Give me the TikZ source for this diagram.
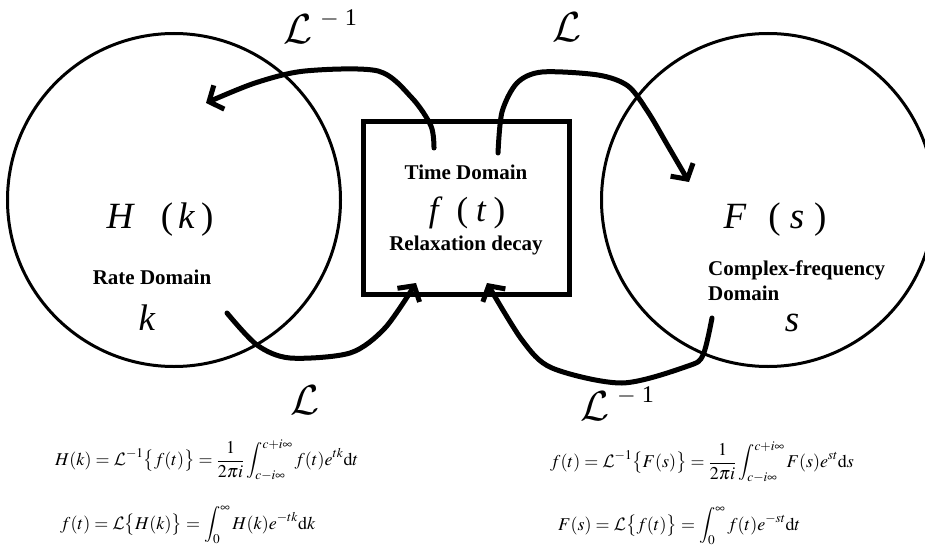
\RequirePackage{fix-cm}
\documentclass[tikz,border=0pt]{standalone}
\usepackage{amsmath}
\usepackage{mathptmx}
\usepackage[no-math]{fontspec}
\setmainfont{Liberation Serif}
\usetikzlibrary{arrows.meta}
\DeclareFontShape{OMS}{cmsy}{m}{n}{<->cmsy10}{}
\DeclareMathAlphabet{\mathcmcal}{OMS}{cmsy}{m}{n}
\newcommand{\Lbig}{{\fontsize{42}{46}\selectfont$\mathcmcal{L}$}}
\newcommand{\Linv}{\Lbig\hspace{8pt}\raisebox{18pt}{\fontsize{24}{26}\selectfont$-$\hspace{6pt}1}}
\tikzset{
  domcirc/.style={draw, circle, line width=3pt, minimum size=333pt, inner sep=0pt},
  tbox/.style={draw, line width=5pt},
  conn/.style={line width=5pt, line cap=round, line join=round,
    -{Straight Barb[length=11pt,width=26pt,line width=5pt]}},
  bigtxt/.style={font=\fontsize{37}{40}\selectfont, inner sep=0pt},
  midtxt/.style={font=\fontsize{35}{38}\selectfont, inner sep=0pt},
  lbl/.style={font=\fontsize{21}{24}\selectfont\bfseries, inner sep=0pt},
  optxt/.style={inner sep=0pt, anchor=base west},
  eqtxt/.style={font=\fontsize{18}{22}\selectfont, inner sep=0pt, anchor=west}
}
\begin{document}
\begin{tikzpicture}[x=1pt,y=-1pt]
\useasboundingbox (0,0) rectangle (925,548);
% domains
\node[domcirc] (rate) at (174,200) {};
\node[domcirc] (cplx) at (768,200) {};
\node[tbox, minimum width=206pt, minimum height=172pt, inner sep=0pt] (time) at (466,208) {};
% texts
\node[lbl] (tdl) at (466,172) {Time Domain};
\node[midtxt] (ft) at (467,213) {\textit{f}\hspace{14pt}(\hspace{8pt}\textit{t}\hspace{7pt})};
\node[lbl] (rdl) at (466,245) {Relaxation decay};
\node[bigtxt] (hk) at (160,220) {\textit{H}\hspace{26pt}(\hspace{5pt}\textit{k}\hspace{6pt})};
\node[lbl] (ratelbl) at (152,277) {Rate Domain};
\node[bigtxt] (kk) at (147,318) {\textit{k}};
\node[bigtxt] (fs) at (775,220) {\textit{F}\hspace{22pt}(\hspace{9pt}\textit{s}\hspace{10pt})};
\node[lbl, anchor=west] (cf) at (708,270) {Complex-frequency};
\node[lbl, anchor=west] (cfd) at (708,293) {Domain};
\node[bigtxt] (ss) at (792,323) {\textit{s}};
% operator labels
\node[optxt] (L1) at (283,44) {\Linv};
\node[optxt] (L2) at (552,42) {\Lbig};
\node[optxt] (L3) at (290,414) {\Lbig};
\node[optxt] (L4) at (580,420) {\Linv};
% connector end points
\coordinate (a1s) at (434,148); \coordinate (a1e) at (206,103);
\coordinate (a2s) at (498,153); \coordinate (a2e) at (689,182);
\coordinate (a3s) at (227,313); \coordinate (a3e) at (416,283);
\coordinate (a4s) at (712,318); \coordinate (a4e) at (487,283);
\draw[conn] plot[smooth, tension=0.5] coordinates {(a1s) (431,126) (412,98) (378,71) (305,71) (255,83) (a1e)};
\draw[conn] plot[smooth, tension=0.5] coordinates {(a2s) (502,112) (517,83) (542,72) (598,75) (628,86) (648,112) (668,146) (a2e)};
\draw[conn] plot[smooth, tension=0.5] coordinates {(a3s) (257,345) (290,358) (350,353) (385,328) (a3e)};
\draw[conn] plot[smooth, tension=0.5] coordinates {(a4s) (703,355) (688,366) (622,383) (552,368) (522,340) (a4e)};
% formulas
\node[eqtxt] (e1) at (55,460) {$\displaystyle H(k)=\mathcmcal{L}^{-1}\bigl\{f(t)\bigr\}=\frac{1}{2\pi i}\int_{c-i\infty}^{c+i\infty} f(t)e^{tk}\mathrm{d}t$};
\node[eqtxt] (e2) at (60,525) {$\displaystyle f(t)=\mathcmcal{L}\bigl\{H(k)\bigr\}=\int_{0}^{\infty} H(k)e^{-tk}\mathrm{d}k$};
\node[eqtxt] (e3) at (550,462) {$\displaystyle f(t)=\mathcmcal{L}^{-1}\bigl\{F(s)\bigr\}=\frac{1}{2\pi i}\int_{c-i\infty}^{c+i\infty} F(s)e^{st}\mathrm{d}s$};
\node[eqtxt] (e4) at (558,526) {$\displaystyle F(s)=\mathcmcal{L}\bigl\{f(t)\bigr\}=\int_{0}^{\infty} f(t)e^{-st}\mathrm{d}t$};
\end{tikzpicture}
\end{document}
